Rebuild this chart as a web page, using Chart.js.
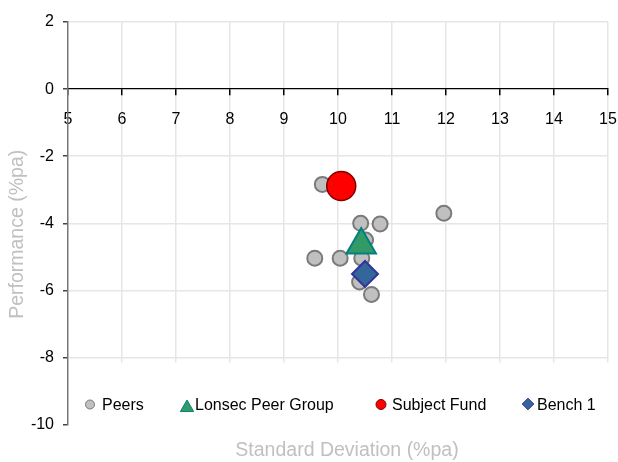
<!DOCTYPE html>
<html lang="en">
<head>
  <meta charset="UTF-8" />
  <title>Risk vs Return</title>
  <script src="https://cdn.jsdelivr.net/npm/chart.js"></script>
  <style>
    html, body {
      margin: 0;
      background: #fff;
    }
    #wrap {
      width: 618px;
      height: 462px;
    }
  </style>
</head>
<body>

<div id="wrap">
  <canvas id="riskChart"></canvas>
</div>

<script>
  // values
  const xTicks = [5, 6, 7, 8, 9, 10, 11, 12, 13, 14, 15];
  const yTicks = [2, 0, -2, -4, -6, -8, -10];

  const peersSD   = [9.71, 10.42, 10.78, 11.96, 10.51, 9.57, 10.04, 10.44, 10.40, 10.62];
  const peersPerf = [-2.84, -4.00, -4.02, -3.70, -4.50, -5.04, -5.04, -5.04, -5.75, -6.12];

  const lonsecSD   = [10.43];
  const lonsecPerf = [-4.65];

  const fundSD   = [10.06];
  const fundPerf = [-2.89];

  const benchSD   = [10.50];
  const benchPerf = [-5.51];

  const FONT = "'Liberation Sans', Arial, sans-serif";
  const pts = (xs, ys) => xs.map((x, i) => ({ x: x, y: ys[i] }));

  // gridlines stop just below -8, the legend sits in the gap underneath
  const legendBox = {
    id: 'legendBox',
    afterLayout(chart) {
      // axis titles in the original sit a little off centre
      const tx = chart.scales.xTitle, ty = chart.scales.yTitle;
      tx.left += 9; tx.right += 9;
      ty.top += 11; ty.bottom += 11;
    },
    beforeDatasetsDraw(chart) {
      const { ctx, chartArea, scales } = chart;
      const top = scales.y.getPixelForValue(-8.15);
      ctx.save();
      ctx.fillStyle = '#fff';
      ctx.fillRect(chartArea.left + 1, top, chartArea.right - chartArea.left + 2, chartArea.bottom - top + 2);
      ctx.restore();
    },
    afterDatasetsDraw(chart) {
      const ctx = chart.ctx;
      const markX = [90, 187, 381, 528];
      const markY = [404.5, 407.7, 404.5, 404];
      const markR = [4.5, 7.7, 5, 5.8];
      const textX = [102, 195, 392, 537];
      ctx.save();
      chart.data.datasets.forEach((ds, i) => {
        ctx.fillStyle = ds.backgroundColor;
        ctx.strokeStyle = ds.borderColor;
        ctx.lineWidth = 1;
        Chart.helpers.drawPoint(ctx, {
          pointStyle: ds.pointStyle,
          radius: markR[i],
          rotation: 0,
          borderWidth: 1
        }, markX[i], markY[i]);
        ctx.fillStyle = '#000';
        ctx.font = '16px ' + FONT;
        ctx.textAlign = 'left';
        ctx.textBaseline = 'alphabetic';
        ctx.fillText(ds.label, textX[i], 409.5);
      });
      ctx.restore();
    }
  };

  const titleOnly = (pos, text, pad, weight) => ({
    type: 'linear',
    position: pos,
    weight: weight,
    min: 0,
    max: 1,
    border: { display: false },
    grid: { display: false, drawTicks: false },
    ticks: { display: false },
    title: {
      display: true,
      text: text,
      color: '#c0c0c0',
      padding: pad,
      font: { family: FONT, size: 19.5 }
    }
  });

  new Chart(document.getElementById('riskChart'), {
    type: 'scatter',
    data: {
      datasets: [{
        label: 'Peers',
        data: pts(peersSD, peersPerf),
        pointStyle: 'circle',
        pointRadius: 7.5,
        backgroundColor: '#c0c0c0',
        borderColor: '#7a7a7a',
        borderWidth: 2,
        order: 10
      }, {
        label: 'Lonsec Peer Group',
        data: pts(lonsecSD, lonsecPerf),
        pointStyle: 'triangle',
        pointRadius: 17,
        backgroundColor: '#339966',
        borderColor: '#008080',
        borderWidth: 2,
        order: 3
      }, {
        label: 'Subject Fund',
        data: pts(fundSD, fundPerf),
        pointStyle: 'circle',
        pointRadius: 14.5,
        backgroundColor: '#ff0000',
        borderColor: '#800000',
        borderWidth: 1.5,
        order: 2
      }, {
        label: 'Bench 1',
        data: pts(benchSD, benchPerf),
        pointStyle: 'rectRot',
        pointRadius: 13,
        backgroundColor: '#336699',
        borderColor: '#333399',
        borderWidth: 2,
        order: 1
      }]
    },
    options: {
      responsive: true,
      maintainAspectRatio: false,
      animation: false,
      events: [],
      layout: {
        autoPadding: false,
        padding: { top: 22, right: 10, bottom: 0, left: 0 }
      },
      plugins: {
        legend: { display: false },
        tooltip: { enabled: false }
      },
      scales: {
        x: {
          type: 'linear',
          position: { y: 0 },
          min: 5,
          max: 15,
          afterBuildTicks: s => { s.ticks = xTicks.map(v => ({ value: v })); },
          border: { color: '#000', width: 1.3 },
          grid: {
            color: c => (c.tick && c.tick.value === 5) ? 'rgba(0,0,0,0)' : '#e6e6e6',
            lineWidth: 1.5,
            tickColor: '#000',
            tickLength: 6
          },
          ticks: {
            color: '#000',
            // tall line box pushes labels down without adding side padding
            padding: 0,
            maxRotation: 0,
            autoSkip: false,
            font: { family: FONT, size: 16, lineHeight: 3.0 }
          }
        },
        xTitle: titleOnly('bottom', 'Standard Deviation (%pa)', { top: 14, bottom: 0 }, 1),
        y: {
          type: 'linear',
          position: 'left',
          min: -10,
          max: 2,
          afterBuildTicks: s => { s.ticks = yTicks.map(v => ({ value: v })); },
          afterFit: s => { s.width = 68 - 29.4; },
          border: { color: '#777', width: 1.5 },
          grid: {
            color: c => (c.tick && c.tick.value === 0) ? 'rgba(0,0,0,0)' : '#e6e6e6',
            lineWidth: 1.5,
            tickColor: '#444',
            tickLength: 5
          },
          ticks: {
            color: '#000',
            padding: 9,
            font: { family: FONT, size: 16 }
          }
        },
        yTitle: titleOnly('left', 'Performance (%pa)', { top: 6, bottom: 0 }, 1)
      }
    },
    plugins: [legendBox]
  });
</script>

</body>
</html>
